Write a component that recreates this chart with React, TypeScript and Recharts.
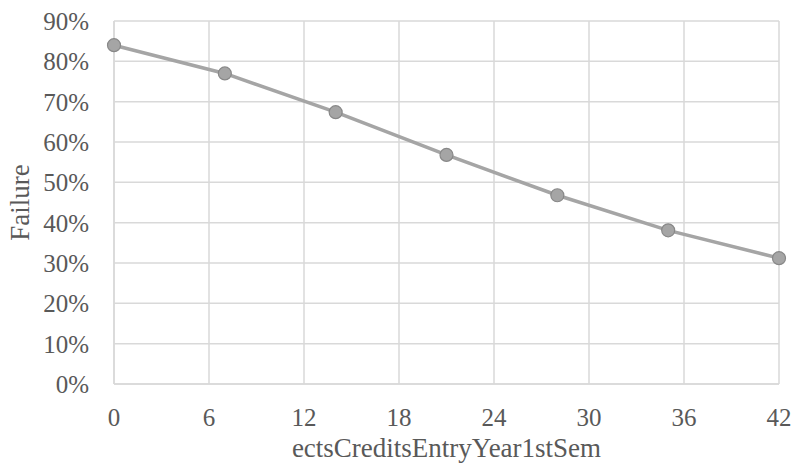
import React from 'react';
import {
  LineChart,
  Line,
  XAxis,
  YAxis,
  CartesianGrid,
  Label,
} from 'recharts';

const credits = [0, 7, 14, 21, 28, 35, 42];
const failure = [0.84, 0.77, 0.674, 0.568, 0.468, 0.381, 0.312];
const xTicks = [0, 6, 12, 18, 24, 30, 36, 42];
const yTicks = [0, 0.1, 0.2, 0.3, 0.4, 0.5, 0.6, 0.7, 0.8, 0.9];

const data = credits.map((c, i) => ({ credits: c, failure: failure[i] }));

const FONT = '"Liberation Serif", "DejaVu Serif", serif';
const TEXT = '#595959';
const GRID = '#d9d9d9';

export default function App() {
  return (
    <div style={{ position: 'absolute', left: 0, top: 0, background: '#fff' }}>
      <LineChart
        width={794}
        height={470}
        data={data}
        margin={{ top: 21, right: 15, bottom: 16, left: 34 }}
      >
        <CartesianGrid stroke={GRID} strokeWidth={1.5} />
        <XAxis
          dataKey="credits"
          type="number"
          domain={[0, 42]}
          ticks={xTicks}
          interval={0}
          height={70}
          axisLine={{ stroke: GRID, strokeWidth: 1.5 }}
          tickLine={false}
          tickMargin={18}
          tick={{ fill: TEXT, fontFamily: FONT, fontSize: 25 }}
        >
          <Label
            value="ectsCreditsEntryYear1stSem"
            position="insideBottom"
            offset={-3}
            style={{ fill: TEXT, fontFamily: FONT, fontSize: 27 }}
          />
        </XAxis>
        <YAxis
          type="number"
          domain={[0, 0.9]}
          ticks={yTicks}
          interval={0}
          width={80}
          axisLine={{ stroke: GRID, strokeWidth: 1.5 }}
          tickLine={false}
          tickMargin={19}
          tickFormatter={(v: number) => `${Math.round(v * 100)}%`}
          tick={{ fill: TEXT, fontFamily: FONT, fontSize: 25 }}
        >
          <Label
            value="Failure"
            angle={-90}
            position="insideLeft"
            offset={-15}
            style={{ fill: TEXT, fontFamily: FONT, fontSize: 27, textAnchor: 'middle' }}
          />
        </YAxis>
        <Line
          type="linear"
          dataKey="failure"
          stroke="#a5a5a5"
          strokeWidth={3.5}
          dot={{ r: 6.5, fill: '#a5a5a5', stroke: '#888888', strokeWidth: 1.2 }}
          isAnimationActive={false}
        />
      </LineChart>
    </div>
  );
}
